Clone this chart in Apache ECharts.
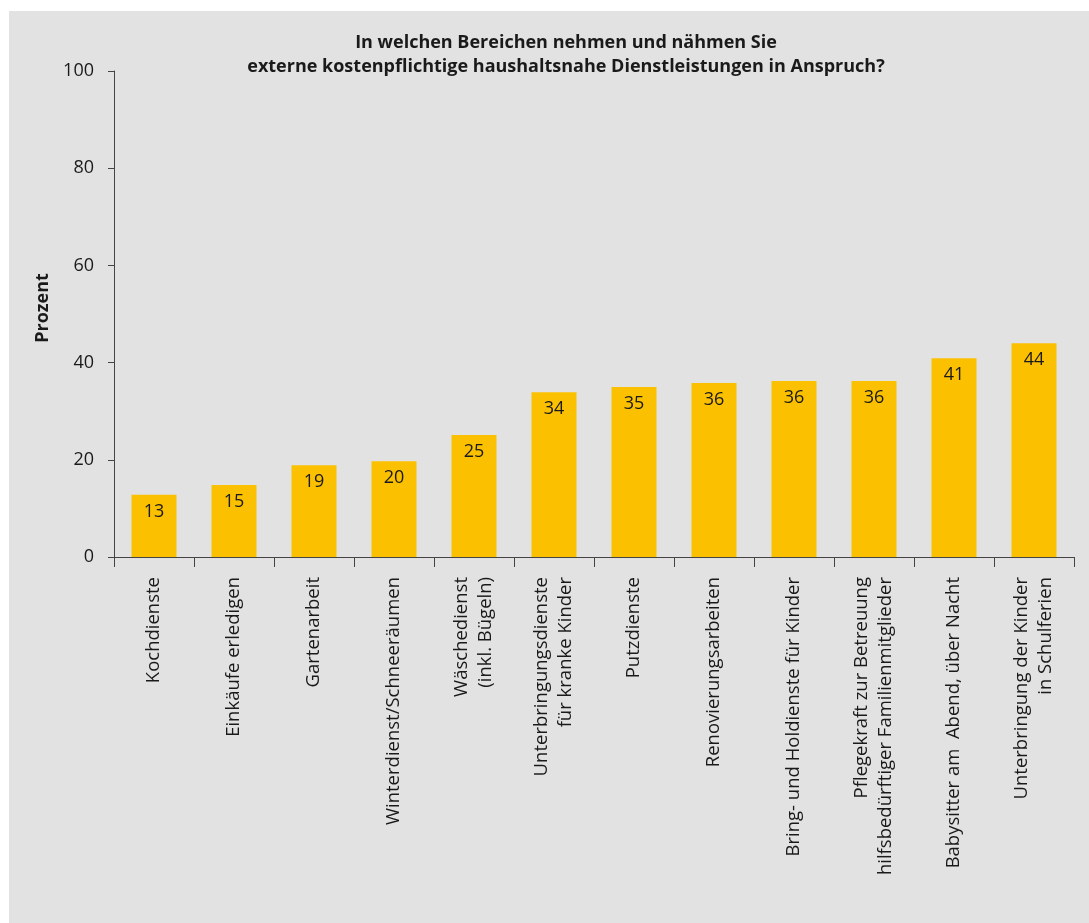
<!DOCTYPE html>
<html>
<head>
<meta charset="utf-8">
<script src="https://cdn.jsdelivr.net/npm/echarts@6/dist/echarts.min.js"></script>
<style>
html,body{margin:0;padding:0;background:#fff;}
#chart{width:1089px;height:923px;}
</style>
</head>
<body>
<div id="chart"></div>
<script>
const categories = [
  "Kochdienste",
  "Einkäufe erledigen",
  "Gartenarbeit",
  "Winterdienst/Schneeräumen",
  "Wäschedienst\n(inkl. Bügeln)",
  "Unterbringungsdienste\nfür kranke Kinder",
  "Putzdienste",
  "Renovierungsarbeiten",
  "Bring- und Holdienste für Kinder",
  "Pflegekraft zur Betreuung\nhilfsbedürftiger Familienmitglieder",
  "Babysitter am  Abend, über Nacht",
  "Unterbringung der Kinder\nin Schulferien"
];
const values = [12.8, 14.8, 18.9, 19.7, 25.1, 33.9, 35.0, 35.8, 36.2, 36.2, 40.9, 44.0];
const valueLabels = ["13", "15", "19", "20", "25", "34", "35", "36", "36", "36", "41", "44"];
const yTicks = [0, 20, 40, 60, 80, 100];

const FONT = "Open Sans";
const chart = echarts.init(document.getElementById('chart'));
chart.setOption({
  backgroundColor: '#ffffff',
  animation: false,
  textStyle: { fontFamily: FONT },
  graphic: [{
    type: 'rect', z: -10, silent: true,
    shape: { x: 9, y: 11, width: 1080, height: 912 },
    style: { fill: '#e1e2e1' }
  }],
  title: {
    text: 'In welchen Bereichen nehmen und nähmen Sie\nexterne kostenpflichtige haushaltsnahe Dienstleistungen in Anspruch?',
    left: 561, top: 26, textAlign: 'center',
    textStyle: { fontFamily: FONT, fontSize: 18, fontWeight: 'bold', color: '#1a1a1a', lineHeight: 24 }
  },
  grid: { left: 114, right: 15, top: 71, bottom: 366, containLabel: false },
  xAxis: {
    type: 'category',
    data: categories,
    axisLine: { show: true, lineStyle: { color: '#444', width: 1 } },
    axisTick: { show: true, length: 10, lineStyle: { color: '#444' } },
    axisLabel: {
      rotate: 90, interval: 0, margin: 20,
      fontFamily: FONT, fontSize: 18.5, color: '#1a1a1a', lineHeight: 24
    }
  },
  yAxis: {
    type: 'value', min: 0, max: 100, interval: 20,
    name: 'Prozent', nameLocation: 'middle', nameGap: 54, nameRotate: 90,
    nameTextStyle: { fontFamily: FONT, fontSize: 18, fontWeight: 'bold', color: '#1a1a1a', padding: [0, 0, 0, 12] },
    axisLine: { show: true, lineStyle: { color: '#444', width: 1 } },
    axisTick: { show: true, length: 6, lineStyle: { color: '#444' } },
    splitLine: { show: false },
    axisLabel: {
      margin: 20, fontFamily: FONT, fontSize: 18, color: '#1a1a1a',
      formatter: v => yTicks.includes(v) ? String(v) : ''
    }
  },
  series: [{
    type: 'bar',
    data: values,
    barWidth: 45,
    itemStyle: { color: '#fbc000' },
    label: {
      show: true, position: 'insideTop', distance: 8,
      fontFamily: FONT, fontSize: 18, color: '#1a1a1a',
      formatter: p => valueLabels[p.dataIndex]
    }
  }]
});
</script>
</body>
</html>
